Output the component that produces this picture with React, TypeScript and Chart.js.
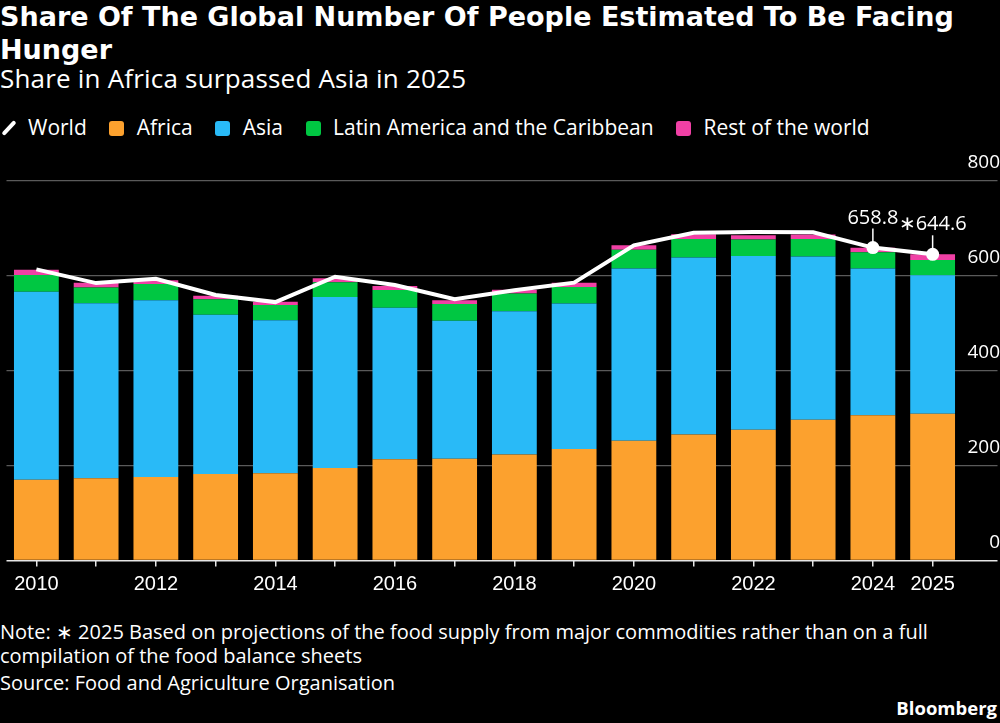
import React, { useEffect, useRef } from "react";
import { Chart, registerables } from "chart.js";

Chart.register(...registerables);

const years = ["2010","2011","2012","2013","2014","2015","2016","2017","2018","2019","2020","2021","2022","2023","2024","2025"];
const shownYears = ["2010","2012","2014","2016","2018","2020","2022","2024","2025"];
const africa = [170, 173, 176, 182, 183.5, 195, 213, 214, 223, 235, 252, 265.5, 275.5, 296.5, 306, 309];
const asia = [396, 368.5, 372, 335.5, 322.5, 360, 319, 291, 302, 306, 363, 372.5, 365.5, 343.5, 309, 291.5];
const latam = [35, 33.5, 34, 32.5, 32, 31, 37.5, 35, 37, 35, 39, 39, 35, 37, 34, 32];
const restOfWorld = [11, 10, 8, 7.5, 7, 8, 8.5, 8, 8, 8.5, 9.5, 10, 8.5, 9.5, 9.5, 12];
const world = [613, 584, 593, 559, 544, 597.5, 580, 550, 569, 585, 663.6, 690, 691.6, 691, 658.8, 644.6];
const labelledPoints = [14, 15];
const yTicks = [0, 200, 400, 600, 800];

const COLORS = {
  africa: "#FCA12E",
  asia: "#29BAF7",
  latam: "#00C742",
  rest: "#F040A5",
  world: "#FFFFFF",
};

const SANS = '"Open Sans", "Noto Sans", sans-serif';
const TITLE = '"DejaVu Sans", "Open Sans", sans-serif';
const AXIS = '"Liberation Sans Narrow", "Liberation Sans", sans-serif';

function measureWidest(font: string, labels: string[]) {
  const c = document.createElement("canvas");
  const ctx = c.getContext("2d")!;
  ctx.font = font;
  return Math.max(...labels.map((l) => ctx.measureText(l).width));
}

const pointLabelPlugin = {
  id: "pointLabels",
  afterDatasetsDraw(chart: any) {
    const dsIndex = chart.data.datasets.findIndex((d: any) => d.type === "line");
    const meta = chart.getDatasetMeta(dsIndex);
    const ctx = chart.ctx;
    ctx.save();
    ctx.fillStyle = "#fff";
    ctx.strokeStyle = "#fff";
    ctx.lineWidth = 1.5;
    ctx.font = `20px ${SANS}`;
    ctx.textAlign = "center";
    ctx.textBaseline = "alphabetic";
    labelledPoints.forEach((i) => {
      const el = meta.data[i];
      const x = el.x;
      const y = el.y;
      ctx.beginPath();
      ctx.moveTo(x, y - 19);
      ctx.lineTo(x, y);
      ctx.stroke();
      const txt = (i === years.length - 1 ? "\u2217" : "") + world[i].toFixed(1);
      ctx.fillText(txt, x, y - 24);
    });
    ctx.restore();
  },
};

export default function App() {
  const ref = useRef<HTMLCanvasElement>(null);

  useEffect(() => {
    document.body.style.margin = "0";
    const canvas = ref.current!;
    const yFont = `19px ${SANS}`;
    const widest = measureWidest(yFont, yTicks.map(String));

    const chart = new Chart(canvas, {
      type: "bar",
      data: {
        labels: years,
        datasets: [
          {
            type: "line",
            label: "World",
            data: world,
            borderColor: COLORS.world,
            backgroundColor: COLORS.world,
            borderWidth: 4,
            pointRadius: years.map((_, i) => (labelledPoints.includes(i) ? 6.5 : 0)),
            pointBorderWidth: 0,
            pointBackgroundColor: COLORS.world,
            tension: 0,
            stack: "world",
            order: 0,
          } as any,
          { label: "Africa", data: africa, backgroundColor: COLORS.africa, stack: "regions", order: 1 },
          { label: "Asia", data: asia, backgroundColor: COLORS.asia, stack: "regions", order: 1 },
          { label: "Latin America and the Caribbean", data: latam, backgroundColor: COLORS.latam, stack: "regions", order: 1 },
          { label: "Rest of the world", data: restOfWorld, backgroundColor: COLORS.rest, stack: "regions", order: 1 },
        ],
      },
      options: {
        responsive: false,
        maintainAspectRatio: false,
        animation: false,
        events: [],
        layout: { padding: { left: 2.5, right: 0, top: 40.5, bottom: 0 } },
        datasets: { bar: { barPercentage: 0.75, categoryPercentage: 1, borderWidth: 0 } },
        plugins: {
          legend: { display: false },
          tooltip: { enabled: false },
          title: { display: false },
        },
        scales: {
          x: {
            stacked: true,
            offset: true,
            grid: {
              display: true,
              drawOnChartArea: false,
              drawTicks: true,
              tickLength: 6,
              color: "#e6e6e6",
              lineWidth: 1.5,
              offset: false,
            },
            border: { display: false },
            ticks: {
              autoSkip: false,
              maxRotation: 0,
              minRotation: 0,
              color: "#fff",
              padding: 6,
              font: { family: AXIS, size: 20 },
              callback: (_v: any, i: number) => (shownYears.includes(years[i]) ? years[i] : ""),
            },
            afterFit: (s: any) => {
              s.height = 39.5;
            },
          },
          y: {
            position: "right",
            stacked: true,
            min: 0,
            max: 800,
            afterBuildTicks: (s: any) => {
              s.ticks = yTicks.map((v) => ({ value: v }));
            },
            grid: {
              color: (ctx: any) => (ctx.tick && ctx.tick.value === 0 ? "#e6e6e6" : "#5a5a5a"),
              lineWidth: (ctx: any) => (ctx.tick && ctx.tick.value === 0 ? 1.5 : 1.2),
              drawTicks: true,
              tickLength: 35,
            },
            border: { display: false },
            ticks: {
              color: "#fff",
              font: { family: SANS, size: 19 },
              crossAlign: "far",
              padding: -widest - 2.5,
              labelOffset: -18,
            },
            afterFit: (s: any) => {
              s.width = 37.5;
            },
          },
        },
      },
      plugins: [pointLabelPlugin],
    } as any);
    return () => chart.destroy();
  }, []);

  const legendItems = [
    { label: "World", color: COLORS.world, line: true },
    { label: "Africa", color: COLORS.africa },
    { label: "Asia", color: COLORS.asia },
    { label: "Latin America and the Caribbean", color: COLORS.latam },
    { label: "Rest of the world", color: COLORS.rest },
  ];

  return (
    <div
      style={{
        position: "fixed",
        left: 0,
        top: 0,
        width: 1000,
        height: 723,
        background: "#000",
        color: "#fff",
        fontFamily: SANS,
        overflow: "hidden",
      }}
    >
      <div
        style={{
          position: "absolute",
          left: 0,
          top: 1,
          fontFamily: TITLE,
          fontSize: 27,
          fontWeight: 700,
          lineHeight: "32.5px",
          whiteSpace: "nowrap",
        }}
      >
        Share Of The Global Number Of People Estimated To Be Facing
        <br />
        Hunger
      </div>
      <div
        style={{
          position: "absolute",
          left: 0,
          top: 62,
          fontSize: 26,
          letterSpacing: 0.2,
          lineHeight: "32px",
          whiteSpace: "nowrap",
        }}
      >
        Share in Africa surpassed Asia in 2025
      </div>
      <div
        style={{
          position: "absolute",
          left: 2,
          top: 111.5,
          display: "flex",
          alignItems: "center",
          fontSize: 21,
          lineHeight: "30px",
          whiteSpace: "nowrap",
        }}
      >
        {legendItems.map((it) => (
          <div key={it.label} style={{ display: "flex", alignItems: "center", marginRight: 22.5 }}>
            {it.line ? (
              <span
                style={{
                  display: "inline-block",
                  width: 13,
                  height: 15,
                  position: "relative",
                  top: 1.5,
                  marginRight: 13,
                }}
              >
                <span
                  style={{
                    position: "absolute",
                    left: -2.5,
                    top: 5.5,
                    width: 18,
                    height: 4,
                    borderRadius: 2,
                    background: it.color,
                    transform: "rotate(-47deg)",
                  }}
                />
              </span>
            ) : (
              <span
                style={{
                  display: "inline-block",
                  width: 15,
                  height: 15,
                  borderRadius: 3,
                  background: it.color,
                  position: "relative",
                  top: 2,
                  marginRight: 12.5,
                }}
              />
            )}
            <span>{it.label}</span>
          </div>
        ))}
      </div>
      <canvas
        ref={ref}
        width={1000}
        height={460}
        style={{ position: "absolute", left: 0, top: 140, width: 1000, height: 460 }}
      />
      <div
        style={{
          position: "absolute",
          left: 0,
          top: 620,
          width: 990,
          fontSize: 20,
          lineHeight: "24px",
        }}
      >
        Note: {"\u2217"} 2025 Based on projections of the food supply from major commodities rather than on a full
        <br />
        compilation of the food balance sheets
      </div>
      <div
        style={{
          position: "absolute",
          left: 0,
          top: 671,
          fontSize: 20,
          lineHeight: "24px",
          whiteSpace: "nowrap",
        }}
      >
        Source: Food and Agriculture Organisation
      </div>
      <div
        style={{
          position: "absolute",
          right: 3,
          top: 696,
          fontSize: 18.5,
          fontWeight: 700,
          lineHeight: "24px",
          whiteSpace: "nowrap",
        }}
      >
        Bloomberg
      </div>
    </div>
  );
}
